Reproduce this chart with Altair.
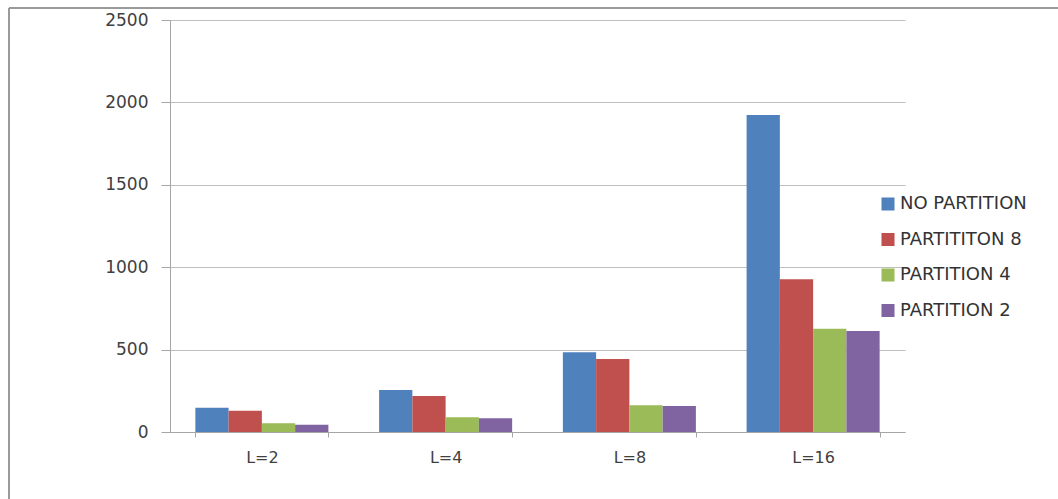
import altair as alt
import pandas as pd

# Category labels and series
levels = ["L=2", "L=4", "L=8", "L=16"]
series = ["NO PARTITION", "PARTITITON 8", "PARTITION 4", "PARTITION 2"]
colors = ["#4F81BD", "#C0504D", "#9BBB59", "#8064A2"]

no_partition = [147, 255, 484, 1924]
partition_8 = [129, 218, 443, 927]
partition_4 = [53, 89, 162, 627]
partition_2 = [44, 83, 158, 613]

rows = []
for name, vals in zip(series, [no_partition, partition_8, partition_4, partition_2]):
    for lvl, v in zip(levels, vals):
        rows.append({"level": lvl, "series": name, "value": v})
df = pd.DataFrame(rows)

FONT = "DejaVu Sans"
W, H = 735, 412

bars = alt.Chart(df).mark_bar().encode(
    x=alt.X("level:N", sort=levels, title=None,
            scale=alt.Scale(paddingInner=0.276, paddingOuter=0.138),
            axis=alt.Axis(labelAngle=0, labelFont=FONT, labelFontSize=16,
                          labelColor="#404040", labelPadding=12,
                          domainColor="#a6a6a6", tickColor="#a6a6a6",
                          tickSize=5, tickBand="extent", grid=False)),
    xOffset=alt.XOffset("series:N", sort=series, scale=alt.Scale(paddingInner=0, paddingOuter=0)),
    y=alt.Y("value:Q", title=None,
            scale=alt.Scale(domain=[0, 2500], nice=False),
            axis=alt.Axis(values=[0, 500, 1000, 1500, 2000, 2500], format="d",
                          labelFont=FONT, labelFontSize=17, labelColor="#404040",
                          labelPadding=13, tickSize=9, tickColor="#a6a6a6",
                          domainColor="#a6a6a6", gridColor="#bfbfbf",
                          gridWidth=1)),
    color=alt.Color("series:N", sort=series,
                    scale=alt.Scale(domain=series, range=colors),
                    legend=alt.Legend(title=None, orient="none",
                                      legendX=709, legendY=175,
                                      symbolType="square", symbolSize=170,
                                      symbolStrokeWidth=0, symbolOpacity=1,
                                      labelFont=FONT, labelFontSize=18,
                                      labelColor="#333333", labelOffset=3,
                                      rowPadding=17.5)),
)

# Outer frame around the chart
frame_top = alt.Chart(df).mark_rule(color="#9a9a9a", strokeWidth=2).encode(
    x=alt.value(-161), x2=alt.value(900), y=alt.value(-12)
)
frame_left = alt.Chart(df).mark_rule(color="#9a9a9a", strokeWidth=2).encode(
    x=alt.value(-161), y=alt.value(-12), y2=alt.value(490)
)

chart = alt.layer(bars, frame_top, frame_left).properties(
    width=W, height=H,
    autosize=alt.AutoSizeParams(type="none"),
    padding={"left": 170, "top": 20, "right": 153, "bottom": 67},
    background="white",
).configure_view(stroke=None)

chart.save("out.html", embed_options={"renderer": "svg", "actions": False})
